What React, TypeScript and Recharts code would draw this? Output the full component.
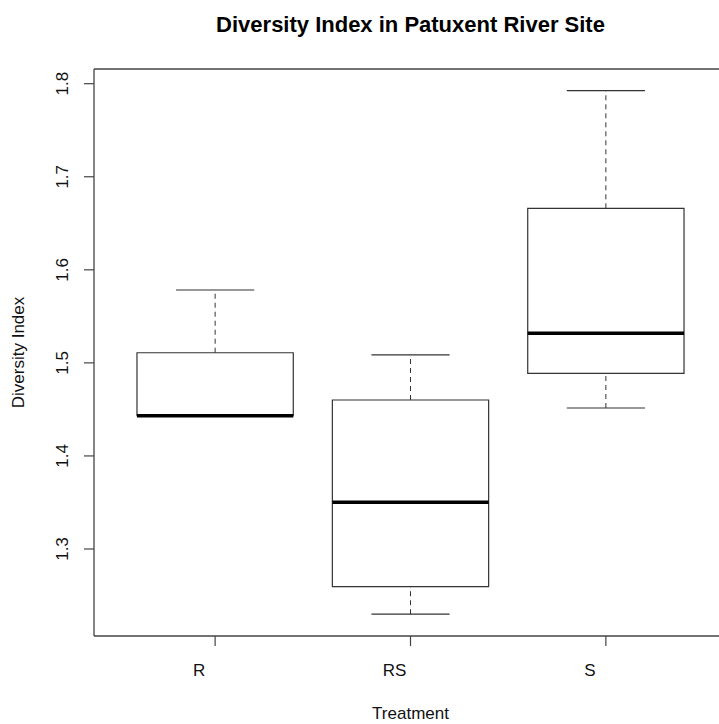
import React from "react";
import {
  ComposedChart,
  XAxis,
  YAxis,
  ReferenceArea,
  ReferenceLine,
} from "recharts";

// Treatment groups and their five-number summaries (Diversity Index)
const categories = ["R", "RS", "S"];
const whiskerLow = [1.4432, 1.2299, 1.4515];
const quartile1 = [1.4432, 1.2595, 1.4888];
const medians = [1.4432, 1.3502, 1.5318];
const quartile3 = [1.5109, 1.4601, 1.6661];
const whiskerHigh = [1.5783, 1.5085, 1.7925];

const yTicks = [1.3, 1.4, 1.5, 1.6, 1.7, 1.8];
const xTicks = [1, 2, 3];

const X_DOMAIN: [number, number] = [0.38, 3.62];
const Y_DOMAIN: [number, number] = [1.2065, 1.8158];

const BOX_HALF = 0.4;
const CAP_HALF = 0.2;

const LINE = "#333";
const FRAME = "#444";
const FONT = "'Liberation Sans', Arial, sans-serif";

const rows = categories.map((name, i) => ({
  name,
  pos: i + 1,
  low: whiskerLow[i],
  q1: quartile1[i],
  median: medians[i],
  q3: quartile3[i],
  high: whiskerHigh[i],
}));

const XTick = (props: any) => {
  const { x, y, payload } = props;
  return (
    <text
      x={x - 16}
      y={y + 30}
      textAnchor="middle"
      fontSize={17}
      fontFamily={FONT}
      fill="#111"
    >
      {categories[payload.value - 1]}
    </text>
  );
};

const YTick = (props: any) => {
  const { x, y, payload } = props;
  const bx = x - 16;
  return (
    <text
      x={bx}
      y={y}
      transform={`rotate(-90, ${bx}, ${y})`}
      textAnchor="middle"
      fontSize={17}
      fontFamily={FONT}
      fill="#111"
    >
      {payload.value.toFixed(1)}
    </text>
  );
};

const XTitle = (props: any) => {
  const vb = props.viewBox;
  return (
    <text
      x={vb.x + vb.width / 2}
      y={vb.y + 83}
      textAnchor="middle"
      fontSize={17}
      fontFamily={FONT}
      fill="#111"
    >
      Treatment
    </text>
  );
};

const YTitle = (props: any) => {
  const vb = props.viewBox;
  const cx = vb.x + 24;
  const cy = vb.y + vb.height / 2;
  return (
    <text
      x={cx}
      y={cy}
      transform={`rotate(-90, ${cx}, ${cy})`}
      textAnchor="middle"
      fontSize={17}
      fontFamily={FONT}
      fill="#111"
    >
      Diversity Index
    </text>
  );
};

export default function App() {
  return (
    <div
      style={{
        position: "absolute",
        left: 0,
        top: 0,
        width: 719,
        height: 724,
        overflow: "hidden",
        background: "#fff",
      }}
    >
      <svg
        width={719}
        height={50}
        style={{ position: "absolute", left: 0, top: 0 }}
      >
        <text
          x={410.5}
          y={32}
          textAnchor="middle"
          fontSize={22}
          fontWeight="bold"
          fontFamily={FONT}
          fill="#000"
        >
          Diversity Index in Patuxent River Site
        </text>
      </svg>
      <ComposedChart
        width={760}
        height={724}
        data={rows}
        margin={{ top: 69, right: 33, bottom: 0, left: 0 }}
        style={{ position: "absolute", left: 0, top: 0 }}
      >
        <XAxis
          type="number"
          dataKey="pos"
          domain={X_DOMAIN}
          ticks={xTicks}
          allowDataOverflow
          height={88}
          tickSize={10}
          tickMargin={0}
          axisLine={false}
          tickLine={{ stroke: FRAME, strokeWidth: 1.2 }}
          tick={<XTick />}
          label={XTitle}
        />
        <YAxis
          type="number"
          domain={Y_DOMAIN}
          ticks={yTicks}
          allowDataOverflow
          width={94}
          tickSize={10}
          tickMargin={0}
          axisLine={false}
          tickLine={{ stroke: FRAME, strokeWidth: 1.2 }}
          tick={<YTick />}
          label={YTitle}
        />

        {/* plot frame: top, bottom and left edges */}
        <ReferenceLine
          segment={[
            { x: X_DOMAIN[0], y: Y_DOMAIN[1] },
            { x: X_DOMAIN[1], y: Y_DOMAIN[1] },
          ]}
          stroke={FRAME}
          strokeWidth={1.3}
          ifOverflow="visible"
        />
        <ReferenceLine
          segment={[
            { x: X_DOMAIN[0], y: Y_DOMAIN[0] },
            { x: X_DOMAIN[1], y: Y_DOMAIN[0] },
          ]}
          stroke={FRAME}
          strokeWidth={1.3}
          ifOverflow="visible"
        />
        <ReferenceLine
          segment={[
            { x: X_DOMAIN[0], y: Y_DOMAIN[0] },
            { x: X_DOMAIN[0], y: Y_DOMAIN[1] },
          ]}
          stroke={FRAME}
          strokeWidth={1.3}
          ifOverflow="visible"
        />
        <ReferenceLine
          segment={[
            { x: X_DOMAIN[1], y: Y_DOMAIN[0] },
            { x: X_DOMAIN[1], y: Y_DOMAIN[1] },
          ]}
          stroke={FRAME}
          strokeWidth={1.3}
          ifOverflow="visible"
        />

        {rows.map((r) => (
          <React.Fragment key={r.name}>
            {/* upper whisker */}
            <ReferenceLine
              segment={[
                { x: r.pos, y: r.q3 },
                { x: r.pos, y: r.high },
              ]}
              stroke={LINE}
              strokeDasharray="5 4"
              strokeWidth={1}
            />
            <ReferenceLine
              segment={[
                { x: r.pos - CAP_HALF, y: r.high },
                { x: r.pos + CAP_HALF, y: r.high },
              ]}
              stroke={LINE}
              strokeWidth={1.2}
            />
            {/* lower whisker */}
            <ReferenceLine
              segment={[
                { x: r.pos, y: r.low },
                { x: r.pos, y: r.q1 },
              ]}
              stroke={LINE}
              strokeDasharray="5 4"
              strokeWidth={1}
            />
            <ReferenceLine
              segment={[
                { x: r.pos - CAP_HALF, y: r.low },
                { x: r.pos + CAP_HALF, y: r.low },
              ]}
              stroke={LINE}
              strokeWidth={1.2}
            />
            {/* box */}
            <ReferenceArea
              x1={r.pos - BOX_HALF}
              x2={r.pos + BOX_HALF}
              y1={r.q1}
              y2={r.q3}
              fill="#fff"
              fillOpacity={1}
              stroke={LINE}
              strokeWidth={1.2}
            />
            {/* median */}
            <ReferenceLine
              segment={[
                { x: r.pos - BOX_HALF, y: r.median },
                { x: r.pos + BOX_HALF, y: r.median },
              ]}
              stroke="#000"
              strokeWidth={3.5}
            />
          </React.Fragment>
        ))}
      </ComposedChart>
    </div>
  );
}
